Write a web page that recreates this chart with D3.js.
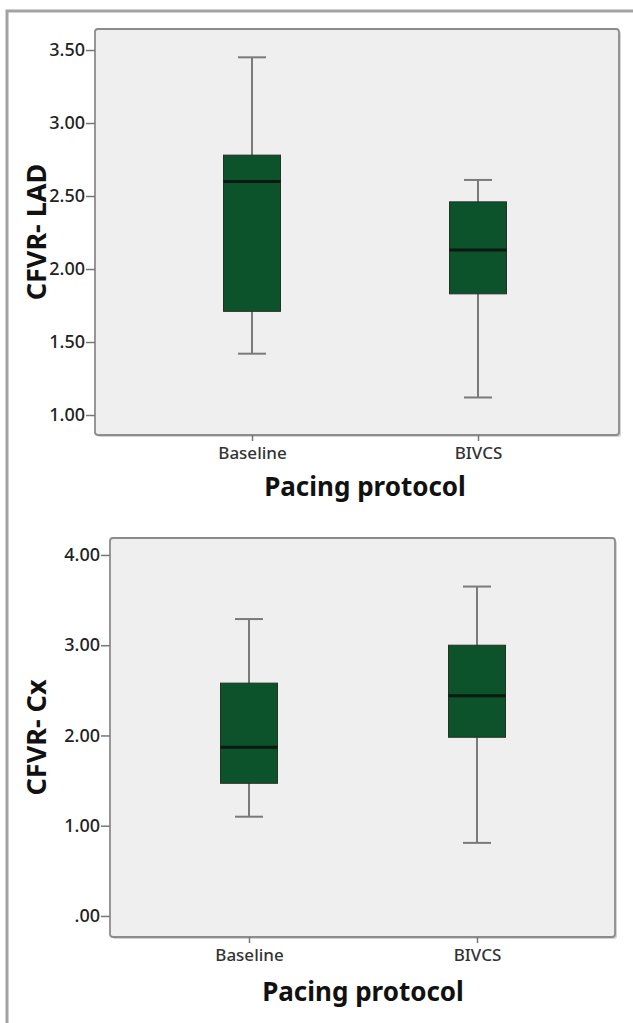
<!DOCTYPE html>
<html>
<head>
<meta charset="utf-8">
<script src="https://cdn.jsdelivr.net/npm/d3@7"></script>
<style>
  body { margin: 0; background: #fff; }
  text { font-family: "Noto Sans", "DejaVu Sans", sans-serif; }
</style>
</head>
<body>
<div id="chart"></div>
<script>
// Categories on the x axis
const groups = ["Baseline", "BIVCS"];

// CFVR - LAD (top panel): whisker low, Q1, median, Q3, whisker high
const ladLow = [1.42, 1.12];
const ladQ1 = [1.71, 1.83];
const ladMedian = [2.60, 2.13];
const ladQ3 = [2.78, 2.46];
const ladHigh = [3.45, 2.61];
const ladTicks = [1.0, 1.5, 2.0, 2.5, 3.0, 3.5];

// CFVR - Cx (bottom panel)
const cxLow = [1.10, 0.81];
const cxQ1 = [1.47, 1.98];
const cxMedian = [1.87, 2.44];
const cxQ3 = [2.58, 3.00];
const cxHigh = [3.29, 3.65];
const cxTicks = [0, 1, 2, 3, 4];

const W = 633, H = 1023;

const svg = d3.select("#chart")
  .append("svg")
    .attr("width", W)
    .attr("height", H);

// outer frame (runs off the right and bottom edge)
svg.append("rect")
  .attr("x", 7).attr("y", 11)
  .attr("width", W + 20).attr("height", H + 20)
  .attr("fill", "none")
  .attr("stroke", "#a3a3a3")
  .attr("stroke-width", 3);

const fmt = v => d3.format(".2f")(v).replace(/^0\./, ".");

function drawPanel(cfg) {
  const { left, right, top, bottom } = cfg;

  const y = d3.scaleLinear().domain(cfg.yDomain).range([bottom, top]);
  const x = d3.scalePoint().domain(groups).range(cfg.xRange);

  const rows = groups.map((g, i) => ({
    g, low: cfg.low[i], q1: cfg.q1[i], med: cfg.median[i], q3: cfg.q3[i], high: cfg.high[i]
  }));

  // plot background, slight shadow on the right
  svg.append("rect")
    .attr("x", left + 2).attr("y", top + 2)
    .attr("width", right - left).attr("height", bottom - top)
    .attr("rx", 3)
    .attr("fill", "#d4d4d4");
  svg.append("rect")
    .attr("x", left).attr("y", top)
    .attr("width", right - left).attr("height", bottom - top)
    .attr("rx", 3)
    .attr("fill", "#efefef")
    .attr("stroke", "#8c8c8c")
    .attr("stroke-width", 1.8);

  // Y axis
  const yAxis = svg.append("g")
    .attr("transform", `translate(${left},0)`)
    .call(d3.axisLeft(y).tickValues(cfg.ticks).tickFormat(fmt).tickSize(9).tickSizeOuter(0));
  yAxis.select(".domain").remove();
  yAxis.selectAll(".tick line").attr("stroke", "#777").attr("stroke-width", 1.5);
  yAxis.selectAll(".tick text")
    .attr("x", -10)
    .attr("fill", "#222")
    .style("font-size", "18px")
    .style("font-weight", 500);

  // X axis
  const xAxis = svg.append("g")
    .attr("transform", `translate(0,${bottom})`)
    .call(d3.axisBottom(x).tickSize(6).tickSizeOuter(0));
  xAxis.select(".domain").remove();
  xAxis.selectAll(".tick line").attr("stroke", "#777").attr("stroke-width", 1.5);
  xAxis.selectAll(".tick text")
    .attr("y", 12)
    .attr("fill", "#333")
    .style("font-size", "17px")
    .style("font-weight", 500);

  const boxW = 57, capW = 28;
  const box = svg.append("g").selectAll("g")
    .data(rows)
    .join("g");

  // whiskers
  box.append("line")
    .attr("x1", d => x(d.g)).attr("x2", d => x(d.g))
    .attr("y1", d => y(d.high)).attr("y2", d => y(d.low))
    .attr("stroke", "#7a7a7a").attr("stroke-width", 2);
  box.selectAll(".cap")
    .data(d => [d, d].map((r, j) => ({ g: r.g, v: j ? r.low : r.high })))
    .join("line")
      .attr("class", "cap")
      .attr("x1", d => x(d.g) - capW / 2).attr("x2", d => x(d.g) + capW / 2)
      .attr("y1", d => y(d.v)).attr("y2", d => y(d.v))
      .attr("stroke", "#7a7a7a").attr("stroke-width", 2);

  // boxes
  box.append("rect")
    .attr("x", d => x(d.g) - boxW / 2)
    .attr("y", d => y(d.q3))
    .attr("width", boxW)
    .attr("height", d => y(d.q1) - y(d.q3))
    .attr("fill", "#0c522a")
    .attr("stroke", "#243224")
    .attr("stroke-width", 1);

  // medians
  box.append("line")
    .attr("x1", d => x(d.g) - boxW / 2).attr("x2", d => x(d.g) + boxW / 2)
    .attr("y1", d => y(d.med)).attr("y2", d => y(d.med))
    .attr("stroke", "#0a1a0e").attr("stroke-width", 3);

  // axis titles
  const cx = (x(groups[0]) + x(groups[1])) / 2;
  svg.append("text")
    .attr("x", cx).attr("y", cfg.xTitleY)
    .attr("text-anchor", "middle")
    .style("font-size", "26px")
    .style("font-weight", "bold")
    .attr("fill", "#111")
    .text("Pacing protocol");

  svg.append("text")
    .attr("transform", `translate(46,${(top + bottom) / 2}) rotate(-90)`)
    .attr("text-anchor", "middle")
    .style("font-size", "27px")
    .style("font-weight", "bold")
    .attr("fill", "#111")
    .text(cfg.yTitle);
}

drawPanel({
  left: 95, right: 619, top: 29, bottom: 435,
  yDomain: [0.863, 3.644],
  xRange: [252, 478],
  ticks: ladTicks,
  low: ladLow, q1: ladQ1, median: ladMedian, q3: ladQ3, high: ladHigh,
  yTitle: "CFVR- LAD",
  xTitleY: 496
});

drawPanel({
  left: 110, right: 615, top: 538, bottom: 937,
  yDomain: [-0.233, 4.188],
  xRange: [249, 477],
  ticks: cxTicks,
  low: cxLow, q1: cxQ1, median: cxMedian, q3: cxQ3, high: cxHigh,
  yTitle: "CFVR- Cx",
  xTitleY: 1001
});
</script>
</body>
</html>
